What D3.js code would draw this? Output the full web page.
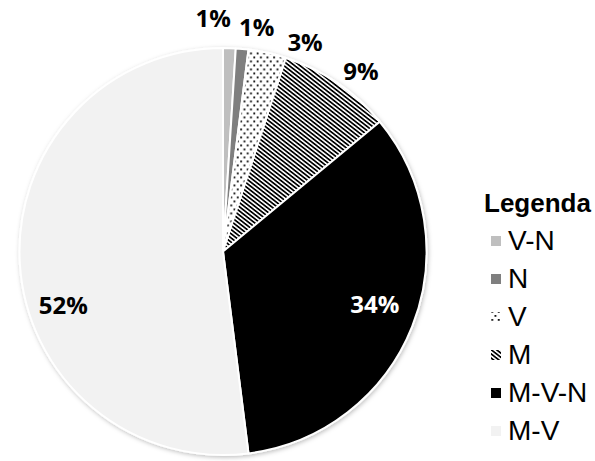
<!DOCTYPE html>
<html>
<head>
<meta charset="utf-8">
<script src="https://cdn.jsdelivr.net/npm/d3@7"></script>
<style>
  html, body { margin: 0; padding: 0; background: #fff; }
  svg { display: block; }
</style>
</head>
<body>
<svg id="chart" width="595" height="461"></svg>
<script>
// Shares by combination
const categories = ["V-N", "N", "V", "M", "M-V-N", "M-V"];
const values = [1, 1, 3, 9, 34, 52];
const labels = ["1%", "1%", "3%", "9%", "34%", "52%"];
const legendTitle = "Legenda";

// Fill for each slice: plain colour or a pattern id
const fills = ["#bfbfbf", "#7f7f7f", "url(#dots)", "url(#stripes)", "#000000", "#f2f2f2"];
const labelColors = ["#000", "#000", "#000", "#000", "#fff", "#000"];

const W = 595, H = 461;
const cx = 223, cy = 251.5, R = 203.5;

const svg = d3.select("#chart");
const defs = svg.append("defs");

// Dotted pattern
const dots = defs.append("pattern")
  .attr("id", "dots").attr("patternUnits", "userSpaceOnUse")
  .attr("width", 6.6).attr("height", 8);
dots.append("rect").attr("width", 6.6).attr("height", 8).attr("fill", "#fff");
dots.append("rect").attr("x", 0.7).attr("y", 1).attr("width", 1.8).attr("height", 1.8).attr("fill", "#000");
dots.append("rect").attr("x", 4).attr("y", 5).attr("width", 1.8).attr("height", 1.8).attr("fill", "#000");

// Diagonal stripes
const stripes = defs.append("pattern")
  .attr("id", "stripes").attr("patternUnits", "userSpaceOnUse")
  .attr("width", 10).attr("height", 3.3)
  .attr("patternTransform", "rotate(38)");
stripes.append("rect").attr("width", 10).attr("height", 3.3).attr("fill", "#fff");
stripes.append("rect").attr("width", 10).attr("height", 1.7).attr("fill", "#000");

// Soft shadow around the pie
const sh = defs.append("filter").attr("id", "shadow")
  .attr("x", "-10%").attr("y", "-10%").attr("width", "120%").attr("height", "120%");
sh.append("feDropShadow").attr("dx", 1).attr("dy", 1.5).attr("stdDeviation", 2)
  .attr("flood-color", "#000").attr("flood-opacity", 0.25);

const pie = d3.pie().sort(null).value(d => d)(values);
const arc = d3.arc().innerRadius(0).outerRadius(R);

const g = svg.append("g").attr("transform", `translate(${cx},${cy})`);
g.append("g").attr("filter", "url(#shadow)")
  .selectAll("path").data(pie).join("path")
  .attr("d", arc)
  .attr("fill", (d, i) => fills[i])
  .attr("stroke", "#fff").attr("stroke-width", 2).attr("stroke-linejoin", "round");

// Label anchor: small slices outside the rim, large ones inside
const outerLabelArc = d3.arc().innerRadius(R + 26).outerRadius(R + 26);
const innerLabelArc = d3.arc().innerRadius(160).outerRadius(160);
const labelNudge = [[-17, -4], [12, 4], [32, 15], [9, 10], [3, -6], [0, 44]];

g.selectAll("text.lbl").data(pie).join("text")
  .attr("class", "lbl")
  .attr("transform", (d, i) => {
    const c = (values[i] < 10 ? outerLabelArc : innerLabelArc).centroid(d);
    return `translate(${c[0] + labelNudge[i][0]},${c[1] + labelNudge[i][1]})`;
  })
  .attr("text-anchor", "middle").attr("dy", "0.36em")
  .attr("font-family", "'Open Sans', sans-serif")
  .attr("font-weight", 700).attr("font-size", 24)
  .attr("fill", (d, i) => labelColors[i])
  .text((d, i) => labels[i]);

// Legend
const lg = svg.append("g").attr("transform", "translate(484,0)");
lg.append("text").attr("x", 0).attr("y", 212)
  .attr("font-family", "'Liberation Sans', Arial, sans-serif")
  .attr("font-weight", 700).attr("font-size", 26).attr("fill", "#000")
  .text(legendTitle);

const rowY = d3.scalePoint().domain(categories).range([250, 440]);
const items = lg.selectAll("g.item").data(categories).join("g")
  .attr("class", "item")
  .attr("transform", d => `translate(0,${rowY(d)})`);
items.append("rect").attr("x", 7).attr("y", -14).attr("width", 10).attr("height", 10)
  .attr("fill", (d, i) => fills[i]);
items.append("text").attr("x", 24).attr("y", 0)
  .attr("font-family", "'Liberation Sans', Arial, sans-serif")
  .attr("font-size", 28).attr("fill", "#000")
  .text(d => d);
</script>
</body>
</html>
